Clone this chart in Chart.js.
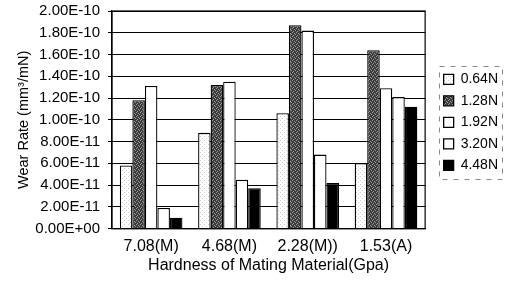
<!DOCTYPE html>
<html>
<head>
<meta charset="utf-8">
<script src="https://cdn.jsdelivr.net/npm/chart.js@4/dist/chart.umd.min.js"></script>
<style>
  html, body { margin: 0; padding: 0; background: #fff; }
  #wrap { width: 506px; height: 285px; }
</style>
</head>
<body>
<div id="wrap"><canvas id="wear-chart"></canvas></div>
<script>
// data
var hardness = ["7.08(M)", "4.68(M)", "2.28(M))", "1.53(A)"];
var loads = ["0.64N", "1.28N", "1.92N", "3.20N", "4.48N"];
var load064 = [5.8e-11, 8.8e-11, 1.06e-10, 6.0e-11];
var load128 = [1.18e-10, 1.32e-10, 1.87e-10, 1.64e-10];
var load192 = [1.31e-10, 1.35e-10, 1.82e-10, 1.29e-10];
var load320 = [1.9e-11, 4.5e-11, 6.8e-11, 1.21e-10];
var load448 = [1.0e-11, 3.7e-11, 4.2e-11, 1.12e-10];

// small fill textures like the printed chart
function makePattern(base, dot, cells) {
    let c = document.createElement('canvas');
    c.width = 4;
    c.height = 4;
    let g = c.getContext('2d');
    g.fillStyle = base;
    g.fillRect(0, 0, 4, 4);
    g.fillStyle = dot;
    cells.forEach(function (p) {
        g.fillRect(p[0], p[1], 1, 1);
    });
    return g.createPattern(c, 'repeat');
}

var lightDots = makePattern('#ffffff', '#cccccc', [[0, 0], [2, 2]]);
var darkDots = makePattern('#3c3c3c', '#9a9a9a', [[0, 0], [2, 1], [1, 3], [3, 2]]);

var series = [load064, load128, load192, load320, load448];
var fills = [lightDots, darkDots, '#ffffff', '#ffffff', '#000000'];

var datasets = [];
for (let i = 0; i < loads.length; i++) {
    datasets.push({
        label: loads[i],
        data: series[i],
        backgroundColor: fills[i],
        borderColor: '#000000',
        borderWidth: 1.3
    });
}

function sciLabel(v) {
    let s = Number(v).toExponential(2).toUpperCase();
    return s.replace(/E([+-])(\d)$/, 'E$10$2');
}

// frame around the plot and a dashed box round the legend items
var framePlugin = {
    id: 'frame',
    afterLayout: function (chart) {
        // leave a gap between plot and legend
        chart.legend.left += 11;
        chart.legend.right += 11;
    },
    afterDraw: function (chart) {
        let ctx = chart.ctx;
        let a = chart.chartArea;
        ctx.save();
        ctx.strokeStyle = '#000';
        ctx.lineWidth = 1.2;
        ctx.strokeRect(a.left, a.top, a.right - a.left, a.bottom - a.top);
        let boxes = chart.legend.legendHitBoxes;
        if (boxes && boxes.length) {
            let first = boxes[0];
            let last = boxes[boxes.length - 1];
            let x0 = Math.round(first.left) - 4.5;
            let y0 = Math.round(first.top) - 5.5;
            let y1 = Math.round(last.top + last.height) + 7.5;
            ctx.strokeStyle = '#888';
            ctx.lineWidth = 1;
            ctx.setLineDash([5, 6]);
            ctx.strokeRect(x0, y0, 63, y1 - y0);
        }
        ctx.restore();
    }
};

Chart.defaults.font.family = '"Liberation Sans", Arial, sans-serif';
Chart.defaults.color = '#000';

new Chart(document.getElementById('wear-chart'), {
    type: 'bar',
    data: {
        labels: hardness,
        datasets: datasets
    },
    options: {
        responsive: true,
        maintainAspectRatio: false,
        animation: false,
        layout: { padding: { top: 11, right: 9, left: 15, bottom: 10 } },
        datasets: {
            bar: { categoryPercentage: 0.8, barPercentage: 1.0 }
        },
        plugins: {
            legend: {
                position: 'right',
                align: 'start',
                title: {
                    display: true,
                    text: ' ',
                    font: { size: 14 },
                    padding: { top: 37, bottom: 0 }
                },
                labels: {
                    font: { size: 14 },
                    boxWidth: 10,
                    boxHeight: 10,
                    padding: 7.5
                }
            },
            tooltip: { enabled: false }
        },
        scales: {
            x: {
                grid: { display: false },
                border: { color: '#000', width: 1.2 },
                ticks: { font: { size: 16 }, padding: 0 },
                title: {
                    display: true,
                    text: 'Hardness of Mating Material(Gpa)',
                    font: { size: 16 },
                    padding: { top: 0, bottom: 0 }
                }
            },
            y: {
                min: 0,
                max: 2.0e-10,
                grid: { color: '#000', lineWidth: 1, tickLength: 4 },
                border: { color: '#000', width: 1.2 },
                afterFit: function (scale) {
                    // fixed axis width so the plot starts where the original does
                    scale.width = 97;
                    scale.paddingTop = 0;
                },
                ticks: {
                    stepSize: 2.0e-11,
                    font: { size: 15 },
                    padding: 8,
                    callback: function (v) { return sciLabel(v); }
                },
                title: {
                    display: true,
                    text: 'Wear Rate (mm³/mN)',
                    font: { size: 14.5 },
                    padding: { top: 0, bottom: 1 }
                }
            }
        }
    },
    plugins: [framePlugin]
});
</script>
</body>
</html>
